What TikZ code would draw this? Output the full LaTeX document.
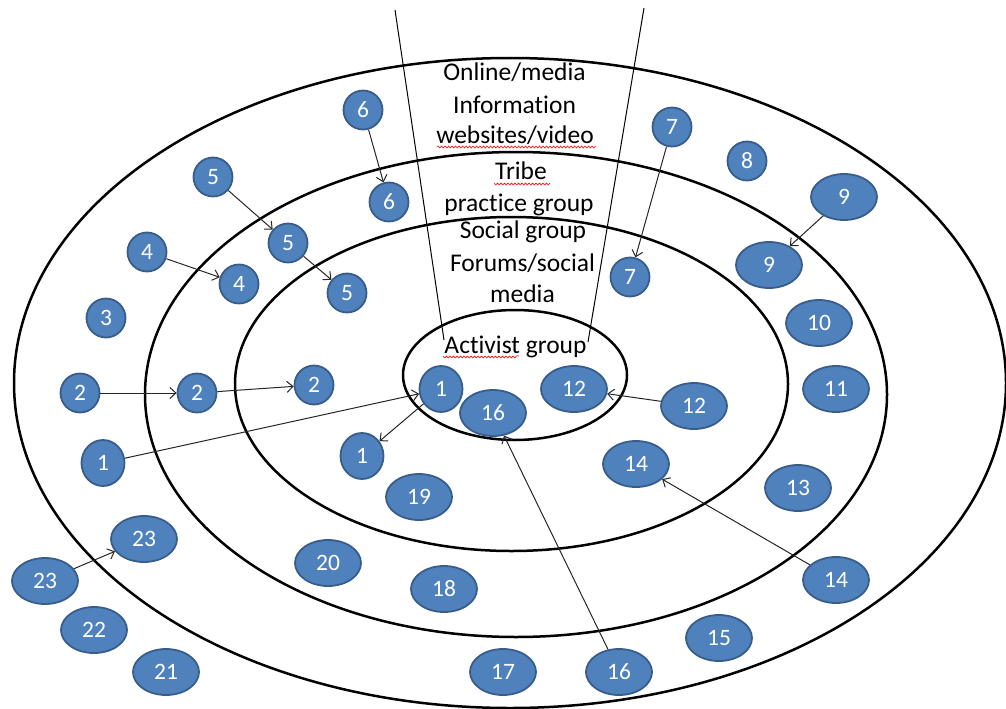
\documentclass[tikz,border=0pt]{standalone}
\usepackage{fontspec}
\setmainfont{Carlito}[Ligatures={NoCommon}]
\usetikzlibrary{shapes.geometric,arrows.meta,decorations.pathmorphing}
\definecolor{blob}{HTML}{4F81BD}
\definecolor{blobline}{HTML}{385D8A}

\begin{document}
\begin{tikzpicture}[x=1pt, y=-1pt,
	ring/.style={line width=2.5pt},
	dot/.style={ellipse, fill=blob, draw=blobline, line width=1.8pt, text=white, inner sep=0pt,
		minimum width=39pt, minimum height=39pt, font=\fontsize{23.5}{0}\selectfont},
	dotone/.style={dot, minimum width=43pt, minimum height=46pt},
	dotwide/.style={dot, minimum width=66pt, minimum height=46pt},
	link/.style={-{Straight Barb[length=6pt,width=11pt]}, line width=1pt, black!85},
	ringtext/.style={anchor=base, font=\fontsize{25.5}{0}\selectfont},
	squiggle/.style={red, line width=0.6pt, decorate, decoration={snake, amplitude=1pt, segment length=3.5pt}}
]
	\useasboundingbox (0,0) rectangle (1006,709);

	% rings
	\draw[ring] (510,383) ellipse [x radius=496pt, y radius=325pt];
	\draw[ring] (516,394.5) ellipse [x radius=371pt, y radius=242.5pt];
	\draw[ring] (511.5,384) ellipse [x radius=276.5pt, y radius=167pt];
	\draw[ring] (515,375) ellipse [x radius=112pt, y radius=65pt];

	\coordinate (top_l) at (395,10);
	\coordinate (end_l) at (444,340);
	\coordinate (top_r) at (644,8);
	\coordinate (end_r) at (588,342);
	\draw[line width=1pt] (top_l)--(end_l) (top_r)--(end_r);

	\node (t_1) at (514.5,80) [ringtext] {Online/media};
	\node (t_2) at (514.5,113) [ringtext] {Information};
	\node (t_3) at (515,143) [ringtext] {websites/video};
	\node (t_4) at (521,179) [ringtext] {Tribe};
	\node (t_5) at (519,211) [ringtext] {prac\kern0pt tice group};
	\node (t_6) at (523,238) [ringtext] {Social group};
	\node (t_7) at (522.5,271) [ringtext] {Forums/social};
	\node (t_8) at (522.5,302) [ringtext] {media};
	\node (t_9) at (515.5,353) [ringtext] {Activist group};
	\draw[squiggle] (437,147)--(595,147) (494,183)--(550,183) (443,356)--(519,356);

	% people
	\node (n6_1) at (363,110) [dot] {6};
	\node (n6_2) at (389,202) [dot] {6};
	\node (n5_1) at (213,177) [dot] {5};
	\node (n5_2) at (288,243) [dot] {5};
	\node (n5_3) at (347,293) [dot] {5};
	\node (n4_1) at (147,252) [dot] {4};
	\node (n4_2) at (239,284) [dot] {4};
	\node (n3) at (106,318) [dot] {3};
	\node (n7_1) at (672,127) [dot] {7};
	\node (n7_2) at (630,277) [dot] {7};
	\node (n8) at (747,161) [dot] {8};
	\node (n9_1) at (844,197) [dotwide] {9};
	\node (n9_2) at (769,265) [dotwide] {9};
	\node (n10) at (819,323) [dotwide] {10};
	\node (n2_1) at (80,393) [dot] {2};
	\node (n2_2) at (197,393) [dot] {2};
	\node (n2_3) at (314,385) [dot] {2};
	\node (n1_1) at (441,389) [dotone] {1};
	\node (n1_2) at (103,463) [dotone] {1};
	\node (n1_3) at (362,456) [dotone] {1};
	\node (n16_1) at (493,413) [dotwide] {16};
	\node (n16_2) at (619,672) [dotwide] {16};
	\node (n19) at (419,497) [dotwide] {19};
	\node (n23_1) at (45,581) [dotwide] {23};
	\node (n23_2) at (144,539) [dotwide] {23};
	\node (n20) at (328,563) [dotwide] {20};
	\node (n18) at (444,589) [dotwide] {18};
	\node (n22) at (94,630) [dotwide] {22};
	\node (n21) at (166,672) [dotwide] {21};
	\node (n17) at (503,672) [dotwide] {17};
	\node (n12_1) at (574,389) [dotwide] {12};
	\node (n12_2) at (694,406) [dotwide] {12};
	\node (n11) at (836,389) [dotwide] {11};
	\node (n14_1) at (636,464) [dotwide] {14};
	\node (n14_2) at (836,580) [dotwide] {14};
	\node (n13) at (798,488) [dotwide] {13};
	\node (n15) at (719,638) [dotwide] {15};

	% moves
	\draw[link] (n6_1)--(n6_2);
	\draw[link] (n5_1)--(n5_2);
	\draw[link] (n5_2)--(n5_3);
	\draw[link] (n4_1)--(n4_2);
	\draw[link] (n7_1)--(n7_2);
	\draw[link] (n9_1)--(n9_2);
	\draw[link] (n2_1)--(n2_2);
	\draw[link] (n2_2)--(n2_3);
	\draw[link] (n1_2)--(n1_1);
	\draw[link] (n1_1)--(n1_3);
	\draw[link] (n23_1)--(n23_2);
	\draw[link] (n12_2)--(n12_1);
	\draw[link] (n14_2)--(n14_1);
	\draw[link] (n16_2)--(n16_1);
\end{tikzpicture}
\end{document}
